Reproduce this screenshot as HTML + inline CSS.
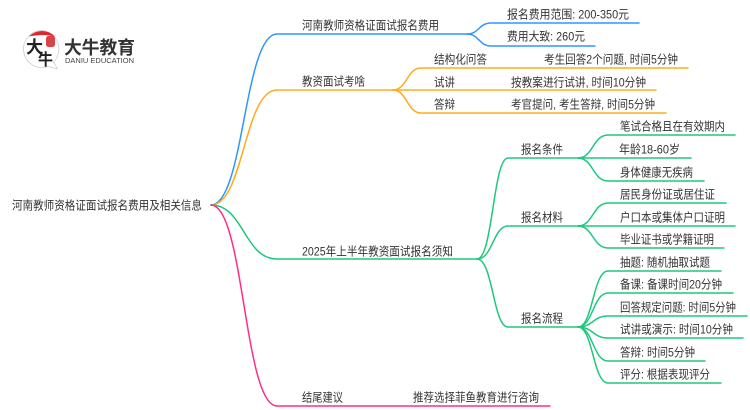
<!DOCTYPE html>
<html>
<head>
<meta charset="utf-8">
<style>
html,body{margin:0;padding:0;background:#fff;width:750px;height:410px;overflow:hidden}
svg{display:block}
text{font-family:"Liberation Sans","Noto Sans CJK SC",sans-serif;font-size:12px;fill:#333}
.l{fill:none;stroke-width:1.5;stroke-linecap:round}
</style>
</head>
<body>
<svg width="750" height="410" viewBox="0 0 750 410" xmlns="http://www.w3.org/2000/svg">
<!-- logo -->
<path d="M42 30.500a18.500 18.500 0 1 0 6 36l9.500 2.500-4-7a18.500 18.500 0 0 0-11.500-31.500z" fill="#fff" stroke="#c9c9c9" stroke-width="0.7"/>
<path d="M29 36.500a18 18 0 0 1 26 0q-13-3-26 0z" fill="#e0262b"/>
<rect x="46" y="36" width="9" height="11" rx="2.500" fill="#d9434a"/>
<text x="26" y="53" textLength="17" lengthAdjust="spacingAndGlyphs" style="font-size:17px;font-family:'Noto Sans CJK SC',sans-serif;font-weight:700;fill:#222">大</text>
<text x="38" y="65" textLength="15" lengthAdjust="spacingAndGlyphs" style="font-size:16px;font-family:'Noto Sans CJK SC',sans-serif;font-weight:700;fill:#222">牛</text>
<text x="64" y="54" textLength="71" lengthAdjust="spacingAndGlyphs" style="font-size:18px;font-weight:700;fill:#333">大牛教育</text>
<text x="65" y="63" textLength="69" lengthAdjust="spacingAndGlyphs" style="font-size:7.500px;fill:#444">DANIU EDUCATION</text>

<!-- blue -->
<g stroke="#2f96ff" fill="none">
<path class="l" d="M211 205C244 205 244 34 277 34H467"/>
<path class="l" d="M467 34C479 34 479 23 491 23H639"/>
<path class="l" d="M467 34C479 34 479 46 491 46H595"/>
</g>
<!-- orange -->
<g stroke="#ffab1f" fill="none">
<path class="l" d="M211 205C244 205 244 90 277 90H393"/>
<path class="l" d="M393 90C407 90 407 68 421 68H688"/>
<path class="l" d="M393 90H656"/>
<path class="l" d="M393 90C407 90 407 113 421 113H666"/>
</g>
<!-- green -->
<g stroke="#1fc77e" fill="none">
<path class="l" d="M211 205C244 205 244 259 277 259H477"/>
<path class="l" d="M477 259C493 259 493 158 508 158H578"/>
<path class="l" d="M477 259C493 259 493 226 508 226H578"/>
<path class="l" d="M477 259C493 259 493 327 508 327H578"/>
<path class="l" d="M578 158C593 158 593 135 608 135H735"/>
<path class="l" d="M578 158H691"/>
<path class="l" d="M578 158C593 158 593 181 608 181H704"/>
<path class="l" d="M578 226C593 226 593 203 608 203H726"/>
<path class="l" d="M578 226H735"/>
<path class="l" d="M578 226C593 226 593 248 608 248H724"/>
<path class="l" d="M578 327C593 327 593 271 608 271H721"/>
<path class="l" d="M578 327C593 327 593 293 608 293H733"/>
<path class="l" d="M578 327C593 327 593 316 608 316H747"/>
<path class="l" d="M578 327C593 327 593 338 608 338H743"/>
<path class="l" d="M578 327C593 327 593 361 608 361H705"/>
<path class="l" d="M578 327C593 327 593 383 608 383H721"/>
</g>
<!-- pink -->
<path class="l" stroke="#ff2d87" d="M211 205C244 205 244 406 277 406H550"/>

<!-- labels -->
<g>
<text lengthAdjust="spacingAndGlyphs" x="12" y="209.500" textLength="190">河南教师资格证面试报名费用及相关信息</text>
<text lengthAdjust="spacingAndGlyphs" x="302" y="29.500" textLength="137">河南教师资格证面试报名费用</text>
<text lengthAdjust="spacingAndGlyphs" x="302" y="85.500" textLength="63">教资面试考啥</text>
<text lengthAdjust="spacingAndGlyphs" x="302" y="255.500" textLength="151">2025年上半年教资面试报名须知</text>
<text lengthAdjust="spacingAndGlyphs" x="302" y="401.500" textLength="41">结尾建议</text>
<text lengthAdjust="spacingAndGlyphs" x="413" y="401.500" textLength="126">推荐选择菲鱼教育进行咨询</text>
<text lengthAdjust="spacingAndGlyphs" x="507" y="18.500" textLength="122">报名费用范围: 200-350元</text>
<text lengthAdjust="spacingAndGlyphs" x="507" y="40.500" textLength="78">费用大致: 260元</text>
<text lengthAdjust="spacingAndGlyphs" x="434" y="63.500" textLength="53">结构化问答</text>
<text lengthAdjust="spacingAndGlyphs" x="434" y="86.500" textLength="21">试讲</text>
<text lengthAdjust="spacingAndGlyphs" x="434" y="108.500" textLength="21">答辩</text>
<text lengthAdjust="spacingAndGlyphs" x="544" y="63.500" textLength="134">考生回答2个问题, 时间5分钟</text>
<text lengthAdjust="spacingAndGlyphs" x="511" y="86.500" textLength="135">按教案进行试讲, 时间10分钟</text>
<text lengthAdjust="spacingAndGlyphs" x="511" y="108.500" textLength="144">考官提问, 考生答辩, 时间5分钟</text>
<text lengthAdjust="spacingAndGlyphs" x="521" y="153.500" textLength="42">报名条件</text>
<text lengthAdjust="spacingAndGlyphs" x="521" y="221.500" textLength="42">报名材料</text>
<text lengthAdjust="spacingAndGlyphs" x="521" y="322.500" textLength="42">报名流程</text>
<text lengthAdjust="spacingAndGlyphs" x="620" y="130.500" textLength="105">笔试合格且在有效期内</text>
<text lengthAdjust="spacingAndGlyphs" x="619" y="153.500" textLength="61">年龄18-60岁</text>
<text lengthAdjust="spacingAndGlyphs" x="620" y="176.500" textLength="73">身体健康无疾病</text>
<text lengthAdjust="spacingAndGlyphs" x="620" y="198.500" textLength="95">居民身份证或居住证</text>
<text lengthAdjust="spacingAndGlyphs" x="620" y="221.500" textLength="105">户口本或集体户口证明</text>
<text lengthAdjust="spacingAndGlyphs" x="620" y="243.500" textLength="94">毕业证书或学籍证明</text>
<text lengthAdjust="spacingAndGlyphs" x="620" y="266.500" textLength="90">抽题: 随机抽取试题</text>
<text lengthAdjust="spacingAndGlyphs" x="620" y="288.500" textLength="102">备课: 备课时间20分钟</text>
<text lengthAdjust="spacingAndGlyphs" x="620" y="311.500" textLength="116">回答规定问题: 时间5分钟</text>
<text lengthAdjust="spacingAndGlyphs" x="620" y="333.500" textLength="113">试讲或演示: 时间10分钟</text>
<text lengthAdjust="spacingAndGlyphs" x="620" y="356.500" textLength="75">答辩: 时间5分钟</text>
<text lengthAdjust="spacingAndGlyphs" x="620" y="378.500" textLength="90">评分: 根据表现评分</text>
</g>
</svg>
</body>
</html>
